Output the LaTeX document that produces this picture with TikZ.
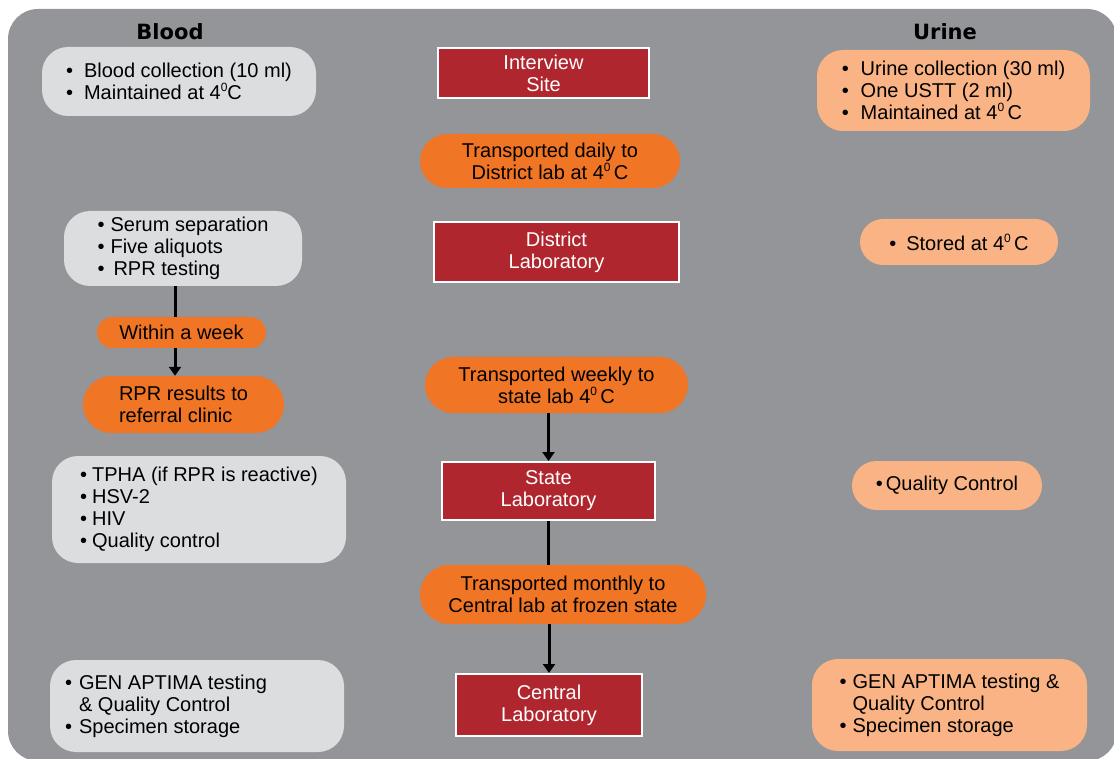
\documentclass[tikz,border=0pt]{standalone}
\usepackage{fontspec}
\setmainfont{Liberation Sans}
\newfontfamily\headfont{DejaVu Sans}
\usetikzlibrary{arrows.meta,shapes.misc}
\definecolor{panelgray}{HTML}{939598}
\definecolor{bloodgray}{HTML}{DCDDDF}
\definecolor{urinepeach}{HTML}{F9B384}
\definecolor{transorange}{HTML}{F07524}
\definecolor{labred}{HTML}{B0262F}
\newcommand{\itm}[1][14pt]{\makebox[#1][l]{\textbullet}}
\newcommand{\dgr}{\raisebox{0.75ex}{\fontsize{12}{12}\selectfont 0}}
\begin{document}
\begin{tikzpicture}[x=1pt, y=-1pt, font=\fontsize{20}{22}\selectfont,
    head_style/.style={font=\headfont\bfseries\fontsize{21}{22}\selectfont},
    lab_style/.style={rectangle,fill=labred,draw=white,line width=2pt,text=white,align=center,inner sep=0pt},
    blood_style/.style={rectangle,rounded corners=26pt,fill=bloodgray,align=left,inner sep=0pt},
    urine_style/.style={rectangle,rounded corners=26pt,fill=urinepeach,align=left,inner sep=0pt},
    pill_style/.style={rounded rectangle,fill=urinepeach,align=left,inner sep=0pt},
    trans_style/.style={rounded rectangle,fill=transorange,align=center,inner sep=0pt},
    link_style/.style={draw=black,line width=3pt},
    arrow_style/.style={draw=black,line width=3pt,-{Triangle[width=12pt,length=9pt]}}]
  \useasboundingbox (0,0) rectangle (1114,759);
  \fill[panelgray, rounded corners=30pt] (8,9) rectangle (1117,761);
  \draw
    (170,32) node[head_style] (blood){Blood}
    (945,32) node[head_style] (urine){Urine}
    % centre column
    (543.5,73) node[lab_style, minimum width=211pt, minimum height=50pt] (interview){Interview\\Site}
    (550,161) node[trans_style, minimum width=260pt, minimum height=54pt] (daily){Transported daily to\\District lab at 4\dgr\,C}
    (556.5,252) node[lab_style, minimum width=245pt, minimum height=60pt] (district){District\\Laboratory}
    (556.5,385) node[trans_style, minimum width=263pt, minimum height=56pt] (weekly){Transported weekly to\\state lab 4\dgr\,C}
    (548.5,491) node[lab_style, minimum width=213pt, minimum height=58pt] (state){State\\Laboratory}
    (563,594.5) node[trans_style, minimum width=286pt, minimum height=59pt] (monthly){Transported monthly to\\Central lab at frozen state}
    (549,705) node[lab_style, minimum width=186pt, minimum height=62pt] (central){Central\\Laboratory}
    % blood column
    (179,81.5) node[blood_style, minimum width=274pt, minimum height=69pt] (collect){\itm[18pt]Blood collection (10 ml)\\\itm[18pt]Maintained at 4\dgr C}
    (183,248.5) node[blood_style, minimum width=238pt, minimum height=75pt] (serum){\itm[13pt]Serum separation\\\itm[13pt]Five aliquots\\\itm[16pt]RPR testing}
    (181.5,332.5) node[trans_style, minimum width=169pt, minimum height=31pt] (week){Within a week}
    (183.5,404.5) node[trans_style, align=left, minimum width=201pt, minimum height=57pt] (rpr){RPR results to\\referral clinic}
    (199,509.5) node[blood_style, minimum width=294pt, minimum height=107pt] (tpha){\itm[12pt]TPHA (if RPR is reactive)\\\itm[12pt]HSV-2\\\itm[12pt]HIV\\\itm[12pt]Quality control}
    (197,706) node[blood_style, minimum width=294pt, minimum height=92pt] (aptima){\itm[14pt]GEN APTIMA testing\hspace*{62pt}\\\hspace*{14pt}\& Quality Control\\\itm[14pt]Specimen storage}
    % urine column
    (953.5,90.5) node[urine_style, minimum width=273pt, minimum height=81pt] (urinecollect){\itm[19pt]Urine collection (30 ml)\\\itm[19pt]One USTT (2 ml)\\\itm[19pt]Maintained at 4\dgr\,C}
    (959,242) node[pill_style, minimum width=198pt, minimum height=46pt] (stored){\itm[17pt]Stored at 4\dgr\,C}
    (947,485.5) node[pill_style, minimum width=190pt, minimum height=49pt] (qc){\itm[10pt]Quality Control}
    (949.5,705) node[urine_style, minimum width=275pt, minimum height=92pt] (urineaptima){\itm[13pt]GEN APTIMA testing \&\\\hspace*{13pt}Quality Control\\\itm[13pt]Specimen storage};
  \begin{scope}
    \draw[link_style] ([xshift=-8pt]serum.south) -- ([xshift=-8pt]serum.south |- week.north);
    \draw[arrow_style] ([xshift=-8pt]serum.south |- week.south) -- ([xshift=-8pt]serum.south |- rpr.north);
    \draw[arrow_style] (weekly.south -| state.north) -- (state.north);
    \draw[link_style] (state.south) -- (monthly.north -| state.south);
    \draw[arrow_style] (monthly.south -| central.north) -- (central.north);
  \end{scope}
\end{tikzpicture}
\end{document}
